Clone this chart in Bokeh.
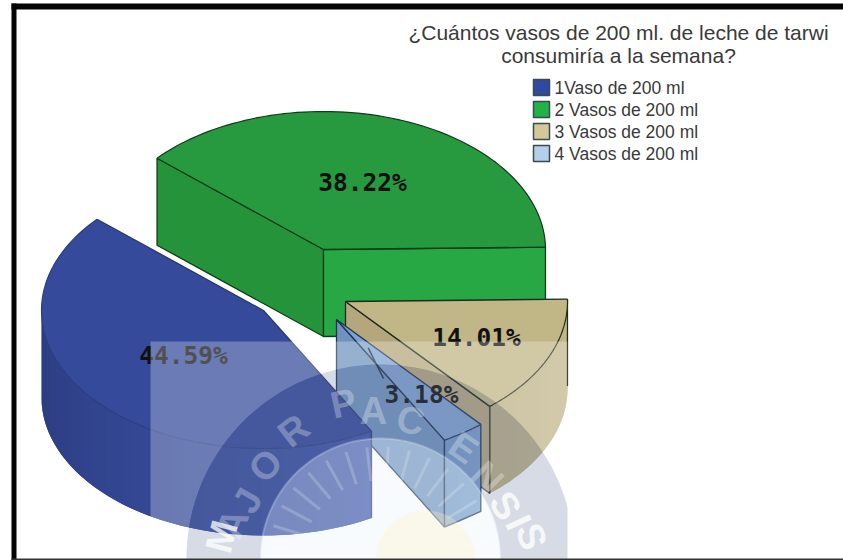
import numpy as np
from bokeh.plotting import figure
from bokeh.core.properties import value
from bokeh.embed import file_html
from bokeh.resources import INLINE

title_lines = ["¿Cuántos vasos de 200 ml. de leche de tarwi", "consumiría a la semana?"]
categories = ["1Vaso de 200 ml", "2 Vasos de 200 ml", "3 Vasos de 200 ml", "4 Vasos de 200 ml"]
percentages = [44.59, 38.22, 14.01, 3.18]
legend_colors = ["#2f4aa0", "#22b348", "#d3c897", "#b4cfe8"]

W, H = 843, 560
RX, RY, DEPTH = 222, 138, 87
START = 299.1
APEX = [(263, 310), (323, 249), (345, 301), (336, 319)]
TOP = ["#354a9a", "#279a3f", "#c1b685", "#7ea2cf"]
EDGE = ["#28386f", "#0d3d18", "#1f2a1a", "#1f3350"]

p = figure(width=W, height=H, x_range=(0, W), y_range=(H, 0), toolbar_location=None,
           output_backend="svg", min_border=0, outline_line_color=None,
           background_fill_color="white", border_fill_color="white")
p.axis.visible = False
p.grid.visible = False


def pt(c, a, r=1.0):
    t = np.radians(a)
    return c[0] + r * RX * np.cos(t), c[1] - r * RY * np.sin(t)


def arc(c, a0, a1, n=80):
    xs, ys = pt(c, np.linspace(a0, a1, n))
    return list(xs), list(ys)


def lerp(c0, c1, t):
    c0, c1 = np.array(c0), np.array(c1)
    return "#%02x%02x%02x" % tuple(int(v) for v in c0 + (c1 - c0) * t)


spans = []
a = START
for v in percentages:
    b = a - v * 3.6
    spans.append((a, b))
    a = b


def top(i, arc_color=None):
    c = APEX[i]
    a0, a1 = spans[i]
    xs, ys = arc(c, a0, a1)
    p.patch([c[0]] + xs, [c[1]] + ys, fill_color=TOP[i], line_color=None)
    p.line(xs, ys, line_color=arc_color or EDGE[i], line_width=1.2)
    p.line([xs[0], c[0], xs[-1]], [ys[0], c[1], ys[-1]], line_color=EDGE[i], line_width=1.3)


def face(c, a, color, edge):
    x, y = pt(c, a)
    p.patch([c[0], x, x, c[0]], [c[1], y, y + DEPTH, c[1] + DEPTH],
            fill_color=color, line_color=edge, line_width=1.3)


def curved(c, a0, a1, c0, c1, n=40):
    ang = np.linspace(a0, a1, n + 1)
    for k in range(n):
        # each strip runs on over the next one, so that no seams show
        seg = np.linspace(ang[k], a1 if k == n - 1 else ang[min(k + 2, n)], 4)
        x, y = pt(c, seg)
        p.patch(list(x) + list(x[::-1]), list(y) + list((y + DEPTH)[::-1]),
                fill_color=lerp(c0, c1, k / max(n - 1, 1)), line_color=None)


# green slice
g = APEX[1]
face(g, spans[1][0], "#24933a", EDGE[1])
face(g, spans[1][1], "#27a844", EDGE[1])
top(1)

# tan slice
t = APEX[2]
curved(t, spans[2][1], spans[2][0], (188, 176, 132), (196, 186, 142))
x_r, y_r = pt(t, spans[2][0])
p.line([x_r, x_r], [y_r, y_r + DEPTH], line_color=EDGE[2], line_width=1.3)
face(t, spans[2][1], "#b5a77d", EDGE[2])
top(2)

# light-blue slice
c4 = APEX[3]
face(c4, spans[3][1], "#7093bd", EDGE[3])
curved(c4, spans[3][1], spans[3][0], (115, 152, 198), (120, 158, 202), n=6)
xe, ye = pt(c4, spans[3][1])
xf, yf = pt(c4, spans[3][0])
p.line([xe, xf, xf, xe, xe], [ye + DEPTH, yf + DEPTH, yf, ye, ye + DEPTH], line_color=EDGE[3], line_width=1.3)
top(3)

# blue slice
b0 = APEX[0]
curved(b0, 180, spans[0][0], (44, 60, 128), (60, 84, 168))
xb, yb = pt(b0, spans[0][0])
p.line([xb, xb], [yb, yb + DEPTH], line_color=EDGE[0], line_width=1.3)
top(0, arc_color="#2c3d84")

# leader of the smallest slice
mid4 = (spans[3][0] + spans[3][1]) / 2
lx, ly = pt(c4, mid4, 0.25)
p.line([lx, 383], [ly, 378], line_color="#1d2d4d", line_width=1.5)

# slice labels
lab_x = [183, 362, 476, 421]
lab_y = [355, 182, 337, 394]
p.text(lab_x, lab_y, text=[f"{v:.2f}%" for v in percentages], text_font=value("DejaVu Sans Mono"),
       text_font_style="bold", text_font_size="24.5px", text_color="#101010",
       text_align="center", text_baseline="middle")

# watermark: translucent sheet with seal
RCX, RCY, R_OUT, R_IN = 380, 558, 194, 120
RL, RR, RT, RB = 150, 567, 341, 560
th = np.linspace(0, 2 * np.pi, 240)
ox = list(np.minimum(RCX + R_OUT * np.cos(th), RR))
oy = list(np.minimum(RCY + R_OUT * np.sin(th), RB))
ix = list(RCX + R_IN * np.cos(th))
iy = list(np.minimum(RCY + R_IN * np.sin(th), RB))
p.multi_polygons(xs=[[[[RL, RR, RR, RL], ox], [ix]]], ys=[[[[RT, RT, RB, RB], oy], [iy]]],
                 fill_color="white", fill_alpha=0.27, line_color=None)
p.multi_polygons(xs=[[[ox, ix]]], ys=[[[oy, iy]]], fill_color="#6e7ea6", fill_alpha=0.28, line_color=None)
p.patch(ix, iy, fill_color="#c8e0f0", fill_alpha=0.13, line_color="#dfe9f5", line_alpha=0.3, line_width=2)
p.circle([425], [560], radius=50, fill_color="#fff3c0", fill_alpha=0.3, line_color=None)

ray_ang = np.radians(np.arange(186, 360, 11))
p.segment(RCX + 78 * np.cos(ray_ang), RCY + 78 * np.sin(ray_ang),
          RCX + 112 * np.cos(ray_ang), RCY + 112 * np.sin(ray_ang),
          line_color="white", line_alpha=0.2, line_width=3)

seal = ["M", "A", "J", "O", "R", "P", "A", "C", "E", "N", "S", "I", "S"]
seal_x = [221, 232, 247, 265, 293, 343, 373, 410, 463, 487, 505, 518, 531]
seal_y = [536, 523, 500, 465, 430, 403, 410, 420, 447, 477, 505, 522, 536]
seal_rot = [75, 68, 60, 48, 38, 12, 0, -12, -35, -45, -58, -65, -72]
seal_alpha = [0.75, 0.3, 0.3, 0.3, 0.3, 0.3, 0.3, 0.3, 0.3, 0.3, 0.8, 0.8, 0.8]
p.text(seal_x, seal_y, text=seal, angle=np.radians(seal_rot), text_alpha=seal_alpha,
       text_font=value("Liberation Sans"), text_font_style="bold", text_font_size="38px",
       text_color="white", text_align="center", text_baseline="middle")

# page frame of the scanned figure
p.quad(left=[11, 11], right=[16, W], top=[3, 3], bottom=[H, 9], fill_color="#050505", line_color=None)
p.quad(left=[11], right=[W], top=[558], bottom=[H], fill_color="#333333", line_color=None)

# title
p.text([618, 618], [32, 55], text=title_lines, text_font=value("Liberation Sans"), text_font_size="21px",
       text_color="#3a3a3a", text_align="center", text_baseline="middle")

# legend
leg_y = [87, 109, 131, 153]
p.rect([541] * 4, leg_y, width=16, height=16, fill_color=legend_colors, line_color="#3a4a50", line_width=1.5)
p.text([554] * 4, leg_y, text=categories, text_font=value("Liberation Sans"), text_font_size="17.5px",
       text_color="#3a3a3a", text_align="left", text_baseline="middle")

open("out.html", "w").write(file_html(p, INLINE))
